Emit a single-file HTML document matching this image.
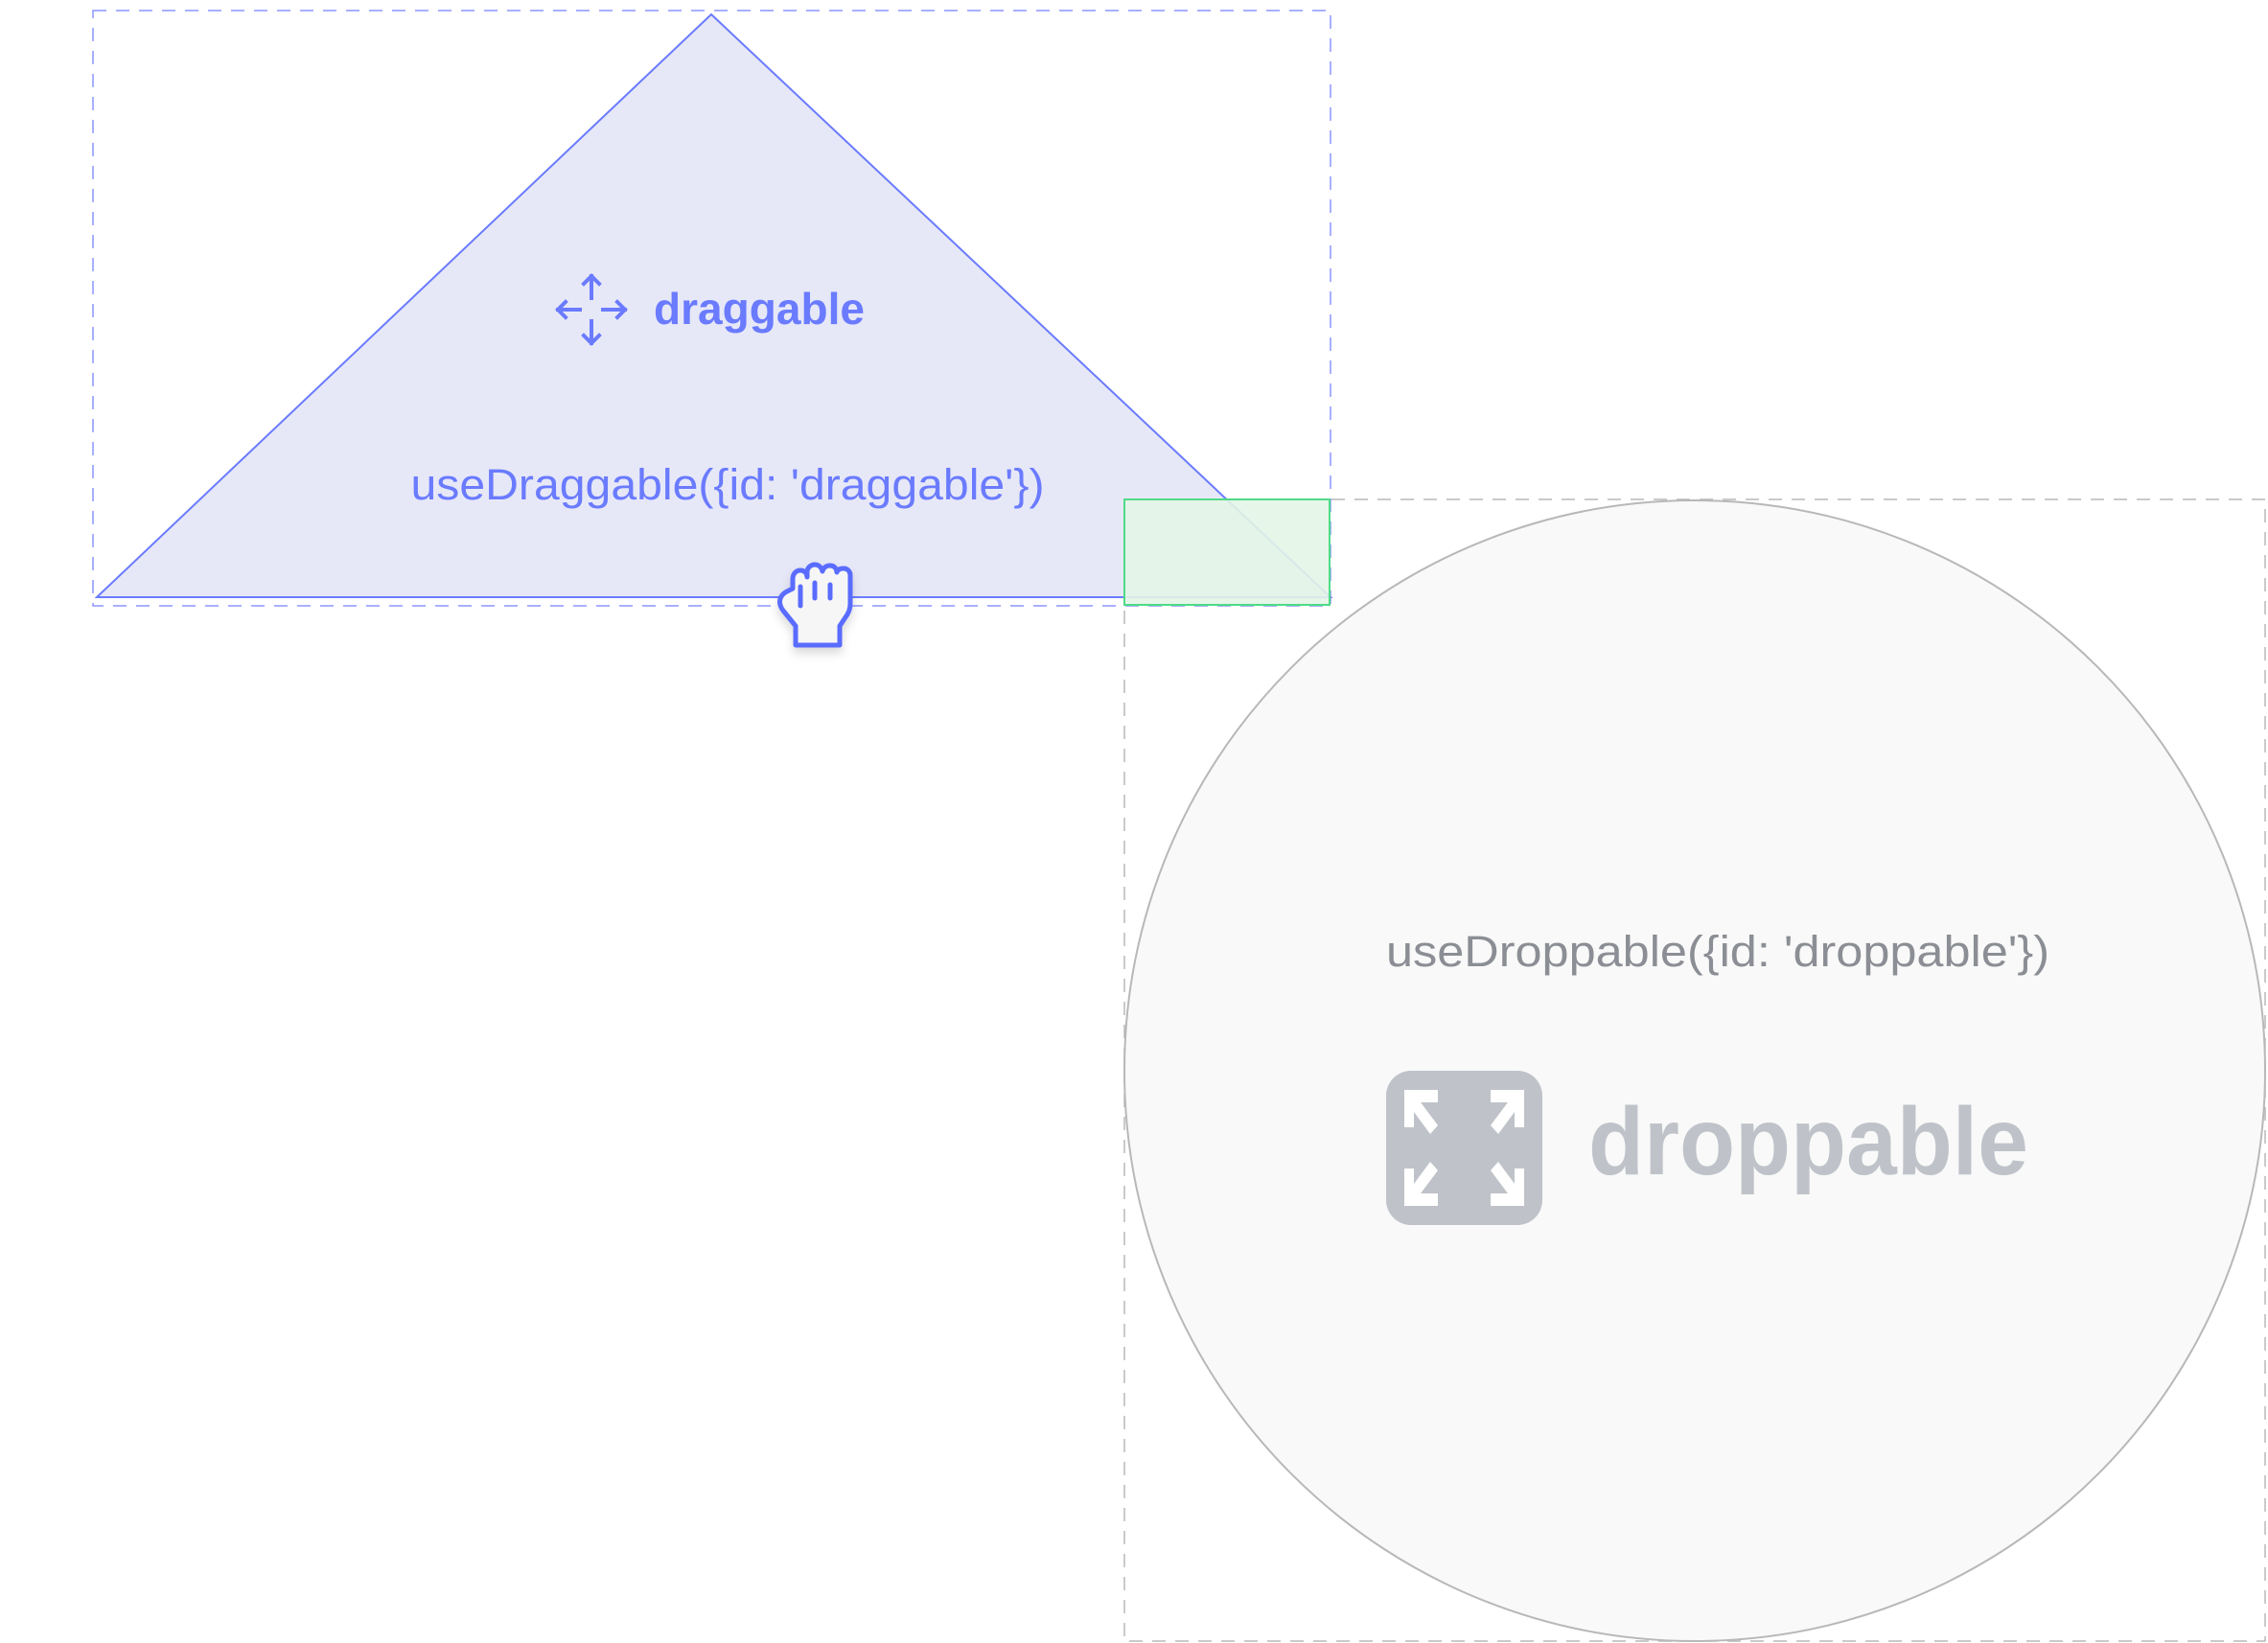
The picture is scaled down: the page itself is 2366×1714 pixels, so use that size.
<!DOCTYPE html>
<html><head><style>html,body{margin:0;padding:0;background:#fff;}svg{display:block}</style></head>
<body>
<svg width="2366" height="1714" viewBox="0 0 2366 1714" xmlns="http://www.w3.org/2000/svg" font-family="Liberation Sans, sans-serif">
<defs>
<filter id="sh" x="-20%" y="-20%" width="140%" height="160%"><feDropShadow dx="0" dy="6" stdDeviation="5" flood-color="#000" flood-opacity="0.15"/></filter>
</defs>
<rect x="1173" y="521" width="1190" height="1191" fill="none" stroke="#b8b8b8" stroke-width="1.5" stroke-dasharray="14,10"/>
<circle cx="1768" cy="1117" r="595" fill="#f9f9f9" stroke="#b8b8b8" stroke-width="2"/>
<text x="1792" y="1008" font-size="45" fill="#8b8e94" text-anchor="middle" textLength="692" lengthAdjust="spacingAndGlyphs">useDroppable({id: 'droppable'})</text>
<rect x="1446" y="1117" width="163" height="161" rx="26" fill="#bfc3c9"/>
<g fill="#fff">
<path d="M1465 1137h35v13h-18l18 24-8 9-17-23v16h-10z"/>
<path d="M1590 1137h-35v13h18l-18 24 8 9 17-23v16h10z"/>
<path d="M1465 1258h35v-13h-18l18-24-8-9-17 23v-16h-10z"/>
<path d="M1590 1258h-35v-13h18l-18-24 8-9 17 23v-16h10z"/>
</g>
<text x="1657" y="1225" font-size="100" font-weight="bold" fill="#bfc3c9" textLength="459" lengthAdjust="spacingAndGlyphs">droppable</text>
<rect x="97" y="11" width="1291" height="621" fill="none" stroke="#8c96ff" stroke-width="1.5" stroke-dasharray="14,10"/>
<polygon points="742,15 1388,623 101,623" fill="#e7e8f7" stroke="#6a7bff" stroke-width="2"/>
<g stroke="#6a7bff" stroke-width="4" fill="none" stroke-linecap="square">
<path d="M617 288v23M617 335v23M582 323h23M629 323h23"/>
<path d="M609 296l8-8 8 8M609 350l8 8 8-8M590 315l-8 8 8 8M644 315l8 8-8 8"/>
</g>
<text x="682" y="338" font-size="46" font-weight="bold" fill="#6a7bff" textLength="220" lengthAdjust="spacingAndGlyphs">draggable</text>
<text x="759" y="521" font-size="45" fill="#6a7bff" text-anchor="middle" textLength="661" lengthAdjust="spacingAndGlyphs">useDraggable({id: 'draggable'})</text>
<rect x="1173" y="521" width="214" height="110" fill="#e3f5e6" fill-opacity="0.9" stroke="#4fdb88" stroke-width="2"/>
<g filter="url(#sh)" transform="translate(0,12)">
<path d="M830 661v-20l-13-16c-6-8-4-16 4-20l6-3v-10c0-6 4-9 8-9s7 3 7 7v-5c0-5 4-8 8-8s7 3 8 7c1-4 4-6 8-6s7 3 7 7c1-3 4-4 7-4 4 0 7 3 7 7v30c0 6-2 10-5 14l-6 9v20z" fill="#f6f6f6" stroke="#5a6cff" stroke-width="5" stroke-linejoin="round"/>
<path d="M835 600v20M850 596v16M866 598v14" stroke="#5a6cff" stroke-width="5" stroke-linecap="round"/>
</g>
</svg>
</body></html>
